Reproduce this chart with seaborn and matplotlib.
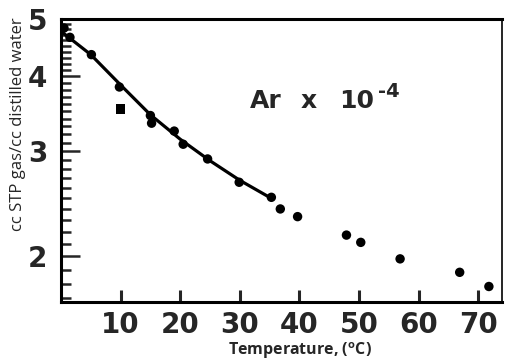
import numpy as np
import pandas as pd
import matplotlib
matplotlib.use("Agg")
import matplotlib.pyplot as plt
import matplotlib.ticker as mticker
import seaborn as sns

# data
temp = [0.5, 1.5, 5.1, 9.8, 10.0, 15.0, 15.2, 19.0, 20.5, 24.6, 29.9, 35.3, 36.8, 39.7, 47.9, 50.3, 56.9, 66.9, 71.8]
solub = [4.82, 4.65, 4.35, 3.84, 3.53, 3.44, 3.34, 3.24, 3.08, 2.91, 2.66, 2.51, 2.40, 2.33, 2.17, 2.11, 1.98, 1.88, 1.78]
marker_kind = ["o", "o", "o", "o", "s", "o", "o", "o", "o", "o", "o", "o", "o", "o", "o", "o", "o", "o", "o"]

fit_t = [0, 5, 10, 15, 20, 25, 30, 35]
fit_v = [4.76, 4.35, 3.87, 3.45, 3.14, 2.89, 2.68, 2.51]

xticks = [10, 20, 30, 40, 50, 60, 70]
yticks = [2, 3, 4, 5]

sns.set_theme(style="white")
plt.rcParams['font.family'] = ['DejaVu Sans']

W, H = 505, 364
fig = plt.figure(figsize=(W / 100, H / 100), dpi=100)
ax = fig.add_axes([61 / W, 1 - 301.5 / H, (502 - 61) / W, (301.5 - 18.5) / H])
ax.set_yscale("log")

df = pd.DataFrame({"t": temp, "v": solub, "m": marker_kind})
fit = pd.DataFrame({"t": fit_t, "v": fit_v})

sns.lineplot(data=fit, x="t", y="v", ax=ax, color="black", linewidth=2.3)
sns.scatterplot(data=df, x="t", y="v", style="m", markers={"o": "o", "s": "s"},
                ax=ax, color="black", s=46, edgecolor="black", linewidth=0, legend=False)

ax.set_xlim(0, 74)
ax.set_ylim(1.68, 5.0)

ax.xaxis.set_major_locator(mticker.FixedLocator(xticks))
ax.xaxis.set_major_formatter(mticker.FixedFormatter([str(t) for t in xticks]))
ax.xaxis.set_minor_locator(mticker.NullLocator())
ax.yaxis.set_major_locator(mticker.FixedLocator(yticks))
ax.yaxis.set_major_formatter(mticker.FixedFormatter([str(t) for t in yticks]))
minor = [round(v, 1) for v in np.arange(1.7, 5.0, 0.1) if abs(v - round(v)) > 1e-6]
ax.yaxis.set_minor_locator(mticker.FixedLocator(minor))
ax.yaxis.set_minor_formatter(mticker.NullFormatter())

ax.tick_params(axis="x", which="major", direction="in", length=9, width=2.2,
               pad=7, labelsize=20, top=False, bottom=True)
ax.tick_params(axis="y", which="major", direction="in", length=14, width=1.8,
               pad=10, labelsize=20, left=True, right=False)
ax.tick_params(axis="y", which="minor", direction="in", length=7, width=1.8, left=True)
for lab in ax.get_xticklabels() + ax.get_yticklabels():
    lab.set_fontweight("bold")

for sp in ax.spines.values():
    sp.set_visible(True)
    sp.set_color("black")
    sp.set_linewidth(2.2)
ax.spines["right"].set_linewidth(1.2)

ax.set_xlabel("")
ax.set_ylabel("")
ax.grid(False)

fig.text(18 / W, 1 - 124 / H, "cc STP gas/cc distilled water", rotation=90,
         ha="center", va="center", fontsize=12, family=["Open Sans", "DejaVu Sans"])
fig.text(300 / W, 1 - 351 / H, "Temperature, ($\\mathregular{^o}$C)", ha="center", va="center",
         fontsize=11.5, fontweight="bold", family=["Open Sans", "DejaVu Sans"])

fs = 18
fig.text(250 / W, 1 - 108 / H, "Ar", fontsize=fs, fontweight="bold", va="baseline", ha="left")
fig.text(301 / W, 1 - 108 / H, "x", fontsize=fs, fontweight="bold", va="baseline", ha="left")
fig.text(339 / W, 1 - 108 / H, "10", fontsize=fs, fontweight="bold", va="baseline", ha="left")
fig.text(378 / W, 1 - 97 / H, "-4", fontsize=14, fontweight="bold", va="baseline", ha="left")

fig.savefig("out.png", dpi=100)
